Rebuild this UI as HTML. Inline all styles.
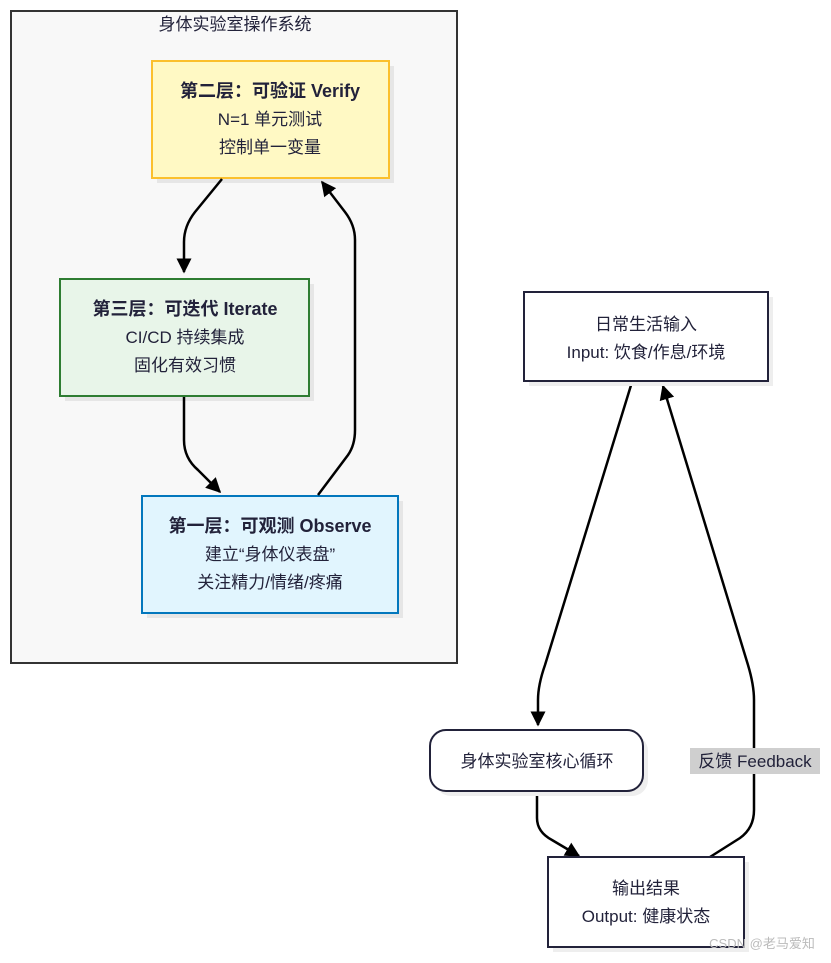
<!DOCTYPE html>
<html><head><meta charset="utf-8"><style>
body{margin:0;background:#fff;}
svg text{font-family:"Liberation Sans","Noto Sans CJK SC",sans-serif;fill:#22223a;text-anchor:middle;}
</style></head><body>
<svg width="831" height="958" viewBox="0 0 831 958" xmlns="http://www.w3.org/2000/svg">
<defs>
<marker id="a" viewBox="0 0 10 10" refX="9" refY="5" markerWidth="15" markerHeight="15" orient="auto-start-reverse" markerUnits="userSpaceOnUse"><path d="M0,0L10,5L0,10z" fill="#000"/></marker>
</defs>
<rect x="11" y="11" width="446" height="652" fill="#f8f8f8" stroke="#333" stroke-width="2"/>
<text x="235" y="30" font-size="17">身体实验室操作系统</text>

<rect x="157" y="66" width="237" height="117" fill="#e6e6e6"/>
<rect x="152" y="61" width="237" height="117" fill="#fff9c4" stroke="#fbc02d" stroke-width="2"/>
<text x="270" y="97" font-size="18" font-weight="bold">第二层：可验证 Verify</text>
<text x="270" y="125" font-size="17">N=1 单元测试</text>
<text x="270" y="153" font-size="17">控制单一变量</text>

<rect x="65" y="284" width="249" height="117" fill="#e6e6e6"/>
<rect x="60" y="279" width="249" height="117" fill="#e8f5e9" stroke="#2e7d32" stroke-width="2"/>
<text x="185" y="315" font-size="18" font-weight="bold">第三层：可迭代 Iterate</text>
<text x="185" y="343" font-size="17">CI/CD 持续集成</text>
<text x="185" y="371" font-size="17">固化有效习惯</text>

<rect x="147" y="501" width="256" height="117" fill="#e6e6e6"/>
<rect x="142" y="496" width="256" height="117" fill="#e1f5fe" stroke="#0277bd" stroke-width="2"/>
<text x="270" y="532" font-size="18" font-weight="bold">第一层：可观测 Observe</text>
<text x="270" y="560" font-size="17">建立“身体仪表盘”</text>
<text x="270" y="588" font-size="17">关注精力/情绪/疼痛</text>

<g fill="none" stroke="#000" stroke-width="2.5">
<path d="M222,179 L195,212 Q184,226 184,242 L184,272" marker-end="url(#a)"/>
<path d="M184,397 L184,440 Q184,458 198,470 L220,492" marker-end="url(#a)"/>
<path d="M318,495 L348,455 Q355,445 355,430 L355,240 Q355,225 345,212 L322,182" marker-end="url(#a)"/>
<path d="M632,382 L545,665 Q538,685 538,700 L538,725" marker-end="url(#a)"/>
<path d="M537,792 L537,818 Q537,832 552,840 L579,856" marker-end="url(#a)"/>
<path d="M710,857 L740,838 Q754,828 754,810 L754,700 Q754,685 748,665 L663,386" marker-end="url(#a)"/>
</g>

<rect x="529" y="297" width="244" height="89" fill="#eee"/>
<rect x="524" y="292" width="244" height="89" fill="#fff" stroke="#22223a" stroke-width="2"/>
<text x="646" y="330" font-size="17">日常生活输入</text>
<text x="646" y="358" font-size="17">Input: 饮食/作息/环境</text>

<rect x="435" y="735" width="213" height="61" rx="16" fill="#eee"/>
<rect x="430" y="730" width="213" height="61" rx="16" fill="#fff" stroke="#22223a" stroke-width="2"/>
<text x="537" y="767" font-size="17">身体实验室核心循环</text>

<rect x="553" y="862" width="196" height="90" fill="#eee"/>
<rect x="548" y="857" width="196" height="90" fill="#fff" stroke="#22223a" stroke-width="2"/>
<text x="646" y="894" font-size="17">输出结果</text>
<text x="646" y="922" font-size="17">Output: 健康状态</text>

<rect x="690" y="748" width="130" height="26" fill="#cfcfcf"/>
<text x="755" y="767" font-size="17">反馈 Feedback</text>
<text x="762" y="948" font-size="13" style="fill:#bbb">CSDN @老马爱知</text>
</svg>
</body></html>
